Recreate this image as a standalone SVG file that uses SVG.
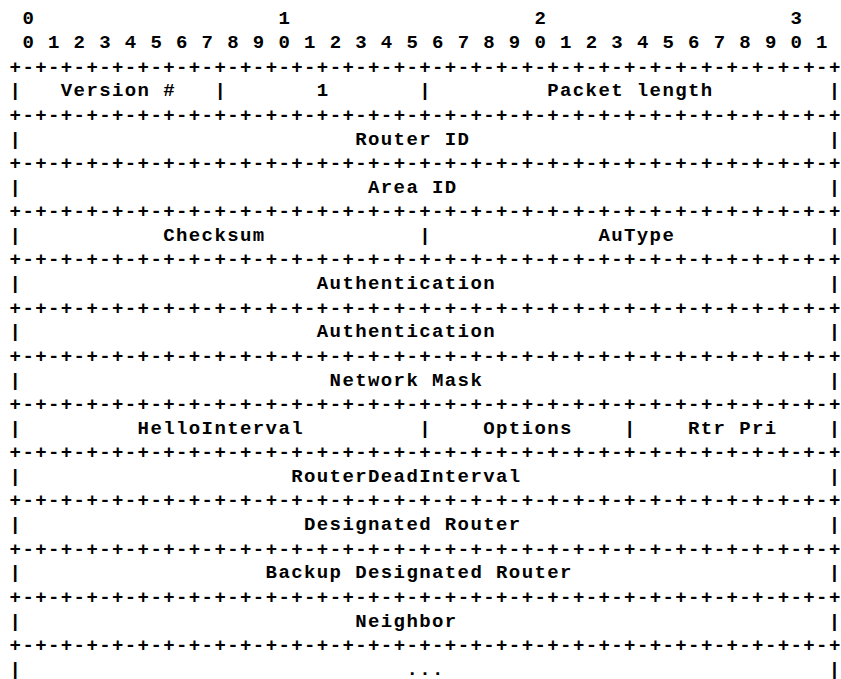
<svg xmlns="http://www.w3.org/2000/svg" width="841" height="679" viewBox="0 0 841 679">
<style>
text{font-family:"Liberation Mono","DejaVu Sans Mono",monospace;font-weight:bold;font-size:19px;letter-spacing:1.4px;fill:#000;white-space:pre}
</style>
<defs>
<text id="rule" x="9.6" y="0" xml:space="preserve">+-+-+-+-+-+-+-+-+-+-+-+-+-+-+-+-+-+-+-+-+-+-+-+-+-+-+-+-+-+-+-+-+</text>
</defs>
<rect width="841" height="679" fill="#fff"/>
<g id="header">
<text x="22.4" y="24">0</text><text x="278.4" y="24">1</text><text x="534.4" y="24">2</text><text x="790.4" y="24">3</text>
<text x="22.4" y="48.1" xml:space="preserve">0 1 2 3 4 5 6 7 8 9 0 1 2 3 4 5 6 7 8 9 0 1 2 3 4 5 6 7 8 9 0 1</text>
</g>
<g id="rules">
<use href="#rule" y="72.6"/><use href="#rule" y="120.8"/><use href="#rule" y="169"/><use href="#rule" y="217.2"/>
<use href="#rule" y="265.4"/><use href="#rule" y="313.6"/><use href="#rule" y="361.8"/><use href="#rule" y="410"/>
<use href="#rule" y="458.2"/><use href="#rule" y="506.4"/><use href="#rule" y="554.6"/><use href="#rule" y="602.8"/>
<use href="#rule" y="651"/>
</g>
<g id="row-version">
<text x="9.6" y="96.3">|</text><text x="60.8" y="96.3">Version #</text><text x="214.4" y="96.3">|</text><text x="316.8" y="96.3">1</text><text x="419.2" y="96.3">|</text><text x="547.2" y="96.3">Packet length</text><text x="828.8" y="96.3">|</text>
</g>
<g id="row-router-id">
<text x="9.6" y="144.5">|</text><text x="355.2" y="144.5">Router ID</text><text x="828.8" y="144.5">|</text>
</g>
<g id="row-area-id">
<text x="9.6" y="192.7">|</text><text x="368" y="192.7">Area ID</text><text x="828.8" y="192.7">|</text>
</g>
<g id="row-checksum">
<text x="9.6" y="240.9">|</text><text x="163.2" y="240.9">Checksum</text><text x="419.2" y="240.9">|</text><text x="598.4" y="240.9">AuType</text><text x="828.8" y="240.9">|</text>
</g>
<g id="row-auth1">
<text x="9.6" y="289.1">|</text><text x="316.8" y="289.1">Authentication</text><text x="828.8" y="289.1">|</text>
</g>
<g id="row-auth2">
<text x="9.6" y="337.3">|</text><text x="316.8" y="337.3">Authentication</text><text x="828.8" y="337.3">|</text>
</g>
<g id="row-netmask">
<text x="9.6" y="385.5">|</text><text x="329.6" y="385.5">Network Mask</text><text x="828.8" y="385.5">|</text>
</g>
<g id="row-hello">
<text x="9.6" y="433.7">|</text><text x="137.6" y="433.7">HelloInterval</text><text x="419.2" y="433.7">|</text><text x="483.2" y="433.7">Options</text><text x="624" y="433.7">|</text><text x="688" y="433.7">Rtr Pri</text><text x="828.8" y="433.7">|</text>
</g>
<g id="row-dead">
<text x="9.6" y="481.9">|</text><text x="291.2" y="481.9">RouterDeadInterval</text><text x="828.8" y="481.9">|</text>
</g>
<g id="row-dr">
<text x="9.6" y="530.1">|</text><text x="304" y="530.1">Designated Router</text><text x="828.8" y="530.1">|</text>
</g>
<g id="row-bdr">
<text x="9.6" y="578.3">|</text><text x="265.6" y="578.3">Backup Designated Router</text><text x="828.8" y="578.3">|</text>
</g>
<g id="row-neighbor">
<text x="9.6" y="626.5">|</text><text x="355.2" y="626.5">Neighbor</text><text x="828.8" y="626.5">|</text>
</g>
<g id="row-more">
<text x="9.6" y="674.7">|</text><text x="406.4" y="674.7">...</text><text x="828.8" y="674.7">|</text>
</g>
</svg>
